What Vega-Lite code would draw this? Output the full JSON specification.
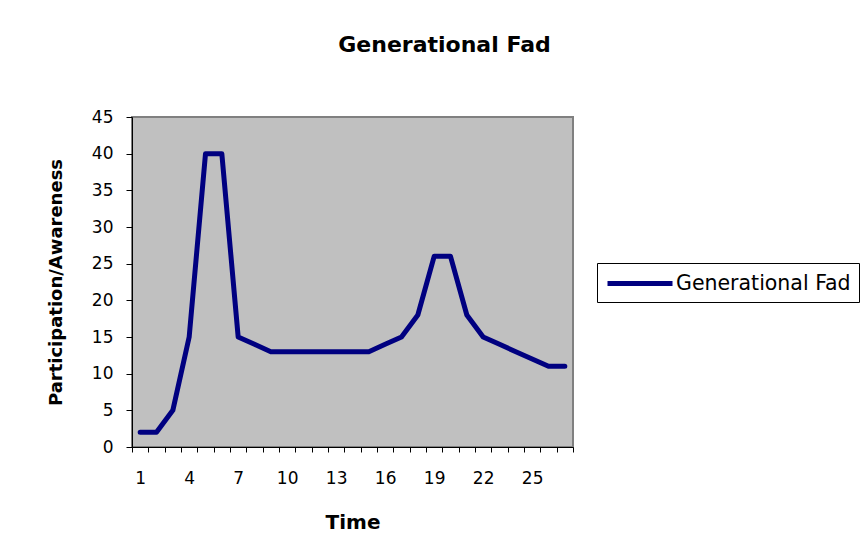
{
  "$schema": "https://vega.github.io/schema/vega-lite/v6.json",
  "width": 441,
  "height": 330,
  "autosize": {"type": "none"},
  "padding": {"left": 132, "top": 117, "right": 290, "bottom": 111},
  "background": "white",
  "title": {
    "text": "Generational Fad",
    "font": "DejaVu Sans",
    "fontSize": 22,
    "fontWeight": "bold",
    "color": "black",
    "anchor": "middle",
    "frame": "group",
    "dx": 92,
    "baseline": "alphabetic",
    "offset": 34
  },
  "config": {
    "view": {"fill": "#C0C0C0", "stroke": "#808080", "strokeWidth": 2},
    "axis": {"grid": false, "domainColor": "black", "tickColor": "black", "labelColor": "black", "titleColor": "black", "labelFont": "DejaVu Sans", "titleFont": "DejaVu Sans"}
  },
  "data": {
    "values": [
      {"t": 1, "v": 2, "series": "Generational Fad"},
      {"t": 2, "v": 2, "series": "Generational Fad"},
      {"t": 3, "v": 5, "series": "Generational Fad"},
      {"t": 4, "v": 15, "series": "Generational Fad"},
      {"t": 5, "v": 40, "series": "Generational Fad"},
      {"t": 6, "v": 40, "series": "Generational Fad"},
      {"t": 7, "v": 15, "series": "Generational Fad"},
      {"t": 8, "v": 14, "series": "Generational Fad"},
      {"t": 9, "v": 13, "series": "Generational Fad"},
      {"t": 10, "v": 13, "series": "Generational Fad"},
      {"t": 11, "v": 13, "series": "Generational Fad"},
      {"t": 12, "v": 13, "series": "Generational Fad"},
      {"t": 13, "v": 13, "series": "Generational Fad"},
      {"t": 14, "v": 13, "series": "Generational Fad"},
      {"t": 15, "v": 13, "series": "Generational Fad"},
      {"t": 16, "v": 14, "series": "Generational Fad"},
      {"t": 17, "v": 15, "series": "Generational Fad"},
      {"t": 18, "v": 18, "series": "Generational Fad"},
      {"t": 19, "v": 26, "series": "Generational Fad"},
      {"t": 20, "v": 26, "series": "Generational Fad"},
      {"t": 21, "v": 18, "series": "Generational Fad"},
      {"t": 22, "v": 15, "series": "Generational Fad"},
      {"t": 23, "v": 14, "series": "Generational Fad"},
      {"t": 24, "v": 13, "series": "Generational Fad"},
      {"t": 25, "v": 12, "series": "Generational Fad"},
      {"t": 26, "v": 11, "series": "Generational Fad"},
      {"t": 27, "v": 11, "series": "Generational Fad"}
    ]
  },
  "mark": {"type": "line", "strokeWidth": 5, "strokeJoin": "round", "strokeCap": "round"},
  "encoding": {
    "x": {
      "field": "t",
      "type": "ordinal",
      "bandPosition": 0.5,
      "scale": {"type": "band", "paddingInner": 0, "paddingOuter": 0},
      "axis": {
        "title": "Time",
        "titleFontSize": 20,
        "titleFontWeight": "bold",
        "titlePadding": 26,
        "labelAngle": 0,
        "labelFontSize": 17,
        "labelPadding": 18,
        "tickBand": "extent",
        "tickSize": 5,
        "labelExpr": "(datum.value - 1) % 3 == 0 ? datum.label : ''"
      }
    },
    "y": {
      "field": "v",
      "type": "quantitative",
      "scale": {"domain": [0, 45]},
      "axis": {
        "title": "Participation/Awareness",
        "titleFontSize": 18,
        "titleFontWeight": "bold",
        "titlePadding": 26,
        "values": [0, 5, 10, 15, 20, 25, 30, 35, 40, 45],
        "labelFontSize": 17,
        "labelPadding": 13,
        "tickSize": 6
      }
    },
    "color": {
      "field": "series",
      "type": "nominal",
      "scale": {"range": ["#000080"]},
      "legend": {
        "title": null,
        "orient": "none",
        "legendX": 465,
        "legendY": 146,
        "strokeColor": "black",
        "fillColor": "white",
        "padding": 8,
        "symbolType": "M-1,0H5.5",
        "symbolSize": 400,
        "symbolStrokeWidth": 5,
        "labelFontSize": 20.5,
        "labelFont": "DejaVu Sans",
        "labelColor": "black",
        "labelOffset": 46,
        "labelLimit": 400
      }
    }
  }
}
